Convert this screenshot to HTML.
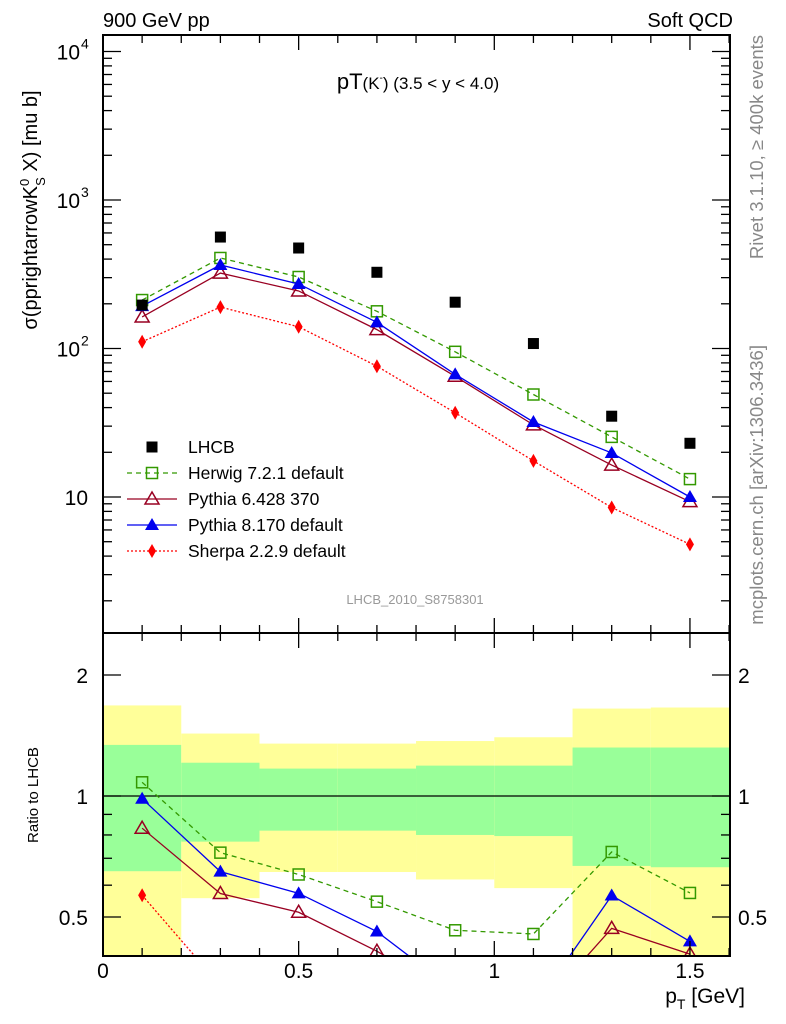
<!DOCTYPE html>
<html><head><meta charset="utf-8"><style>
html,body{margin:0;background:#fff;overflow:hidden;width:786px;height:1024px;}
svg{font-family:"Liberation Sans",sans-serif;display:block;}
</style></head><body>
<svg id="c" width="786" height="1024" xmlns="http://www.w3.org/2000/svg"></svg>
<script>
const xs=[0.1,0.3,0.5,0.7,0.9,1.1,1.3,1.5];
const lhcb=[196,563,475,326,205,108,35,23];
const herwig=[212,407,303,178,95,49,25.4,13.2];
const pythia6=[163,322,244,134,65,30.6,16.4,9.3];
const pythia8=[193,365,272,150,67,32,19.8,10];
const sherpa=[111,190,140,76,36.9,17.5,8.5,4.8];
const binEdges=[0,0.2,0.4,0.6,0.8,1.0,1.2,1.4,1.6];
const yellowHi=[1.68,1.43,1.35,1.35,1.37,1.40,1.65,1.66];
const greenHi=[1.34,1.21,1.17,1.17,1.19,1.19,1.32,1.32];
const greenLo=[0.65,0.77,0.82,0.82,0.80,0.795,0.67,0.665];
const yellowLo=[0.3,0.557,0.647,0.647,0.62,0.59,0.3,0.3];
const xTicks=[0,0.5,1,1.5];
const xTickLabels=["0","0.5","1","1.5"];

const NS="http://www.w3.org/2000/svg";
const svg=document.getElementById('c');
const L=103,R=730,T1=35,B1=633,B2=956;
const X=v=>L+v*391.3;
const Y=v=>497-148.5*(Math.log10(v)-1);
const YR=r=>796-402*Math.log10(r);
function el(tag,attrs,parent){const e=document.createElementNS(NS,tag);for(const k in attrs)e.setAttribute(k,attrs[k]);(parent||svg).appendChild(e);return e;}
function txt(s,x,y,attrs,parent){const t=el('text',Object.assign({x:x,y:y},attrs),parent);t.textContent=s;return t;}

const defs=el('defs',{});
const c1=el('clipPath',{id:'cp1'},defs);el('rect',{x:L,y:T1,width:R-L,height:B1-T1},c1);
const c2=el('clipPath',{id:'cp2'},defs);el('rect',{x:L,y:B1,width:R-L,height:B2-B1},c2);

const bands=el('g',{'clip-path':'url(#cp2)'});


for(let i=0;i<yellowHi.length;i++){
  const x0=X(binEdges[i]),x1=X(binEdges[i+1]);
  const y=el('rect',{x:x0,y:YR(yellowHi[i]),width:x1-x0,height:YR(yellowLo[i])-YR(yellowHi[i]),fill:'#ffff99'},bands);
  
  
  const g=el('rect',{x:x0,y:YR(greenHi[i]),width:x1-x0,height:YR(greenLo[i])-YR(greenHi[i]),fill:'#99ff99'},bands);
  
  
}
el('line',{x1:L,x2:R,y1:YR(1),y2:YR(1),stroke:'#000','stroke-width':1.3},bands);

const series=[
 {name:'herwig',vals:herwig,color:'#339900',dash:'5,4',marker:'osq'},
 {name:'pythia6',vals:pythia6,color:'#990022',dash:'',marker:'otri'},
 {name:'pythia8',vals:pythia8,color:'#0000ee',dash:'',marker:'ftri'},
 {name:'sherpa',vals:sherpa,color:'#ff0000',dash:'2,2',marker:'dia'}];

function marker(type,x,y,color,g){
  if(type==='osq')return el('rect',{x:x-5.5,y:y-5.5,width:11,height:11,fill:'none',stroke:color,'stroke-width':1.5},g);
  if(type==='otri')return el('polygon',{points:`${x},${y-7} ${x-7},${y+5} ${x+7},${y+5}`,fill:'none',stroke:color,'stroke-width':1.5},g);
  if(type==='ftri')return el('polygon',{points:`${x},${y-7} ${x-7},${y+5} ${x+7},${y+5}`,fill:color},g);
  if(type==='dia')return el('polygon',{points:`${x},${y-7} ${x-4},${y} ${x},${y+7} ${x+4},${y}`,fill:color},g);
  if(type==='sq')return el('rect',{x:x-5.5,y:y-5.5,width:11,height:11,fill:color},g);
}

const mg=el('g',{'clip-path':'url(#cp1)'});


for(const s of series){
  const g=el('g',{},mg);
  
  
  const pts=xs.map((x,i)=>X(x)+','+Y(s.vals[i])).join(' ');
  el('polyline',{points:pts,fill:'none',stroke:s.color,'stroke-width':1.3,'stroke-dasharray':s.dash},g);
  xs.forEach((x,i)=>{const m=marker(s.marker,X(x),Y(s.vals[i]),s.color,g);
    
    });
}
const lg=el('g',{},mg);


xs.forEach((x,i)=>{const m=marker('sq',X(x),Y(lhcb[i]),'#000',lg);
  
  });

const rg=el('g',{'clip-path':'url(#cp2)'});


for(const s of series){
  const g=el('g',{},rg);
  
  
  const pts=xs.map((x,i)=>X(x)+','+YR(s.vals[i]/lhcb[i])).join(' ');
  el('polyline',{points:pts,fill:'none',stroke:s.color,'stroke-width':1.3,'stroke-dasharray':s.dash},g);
  xs.forEach((x,i)=>{const m=marker(s.marker,X(x),YR(s.vals[i]/lhcb[i]),s.color,g);
    
    });
}

function frame(top,bot){
  el('rect',{x:L,y:top,width:R-L,height:bot-top,fill:'none',stroke:'#000','stroke-width':2});
  for(let v=0;v<=1.6001;v+=0.1){
    const major=Math.abs(v*2-Math.round(v*2))<1e-6;
    const len=major?15:8;const x=X(v);
    el('line',{x1:x,x2:x,y1:bot,y2:bot-len,stroke:'#000','stroke-width':1.3});
    el('line',{x1:x,x2:x,y1:top,y2:top+len,stroke:'#000','stroke-width':1.3});
  }
}
frame(T1,B1);frame(B1,B2);
for(let d=0;d<=4;d++){for(let m=1;m<=9;m++){const v=m*Math.pow(10,d);const y=Y(v);if(y<T1||y>B1)continue;
  const len=m===1?18:9;
  el('line',{x1:L,x2:L+len,y1:y,y2:y,stroke:'#000','stroke-width':1.3});
  el('line',{x1:R,x2:R-len,y1:y,y2:y,stroke:'#000','stroke-width':1.3});}}
const yl=[[10,'10'],[100,'10','2'],[1000,'10','3'],[10000,'10','4']];
for(const l of yl){const t=txt(l[1],l[0]===10?88:80,Y(l[0])+8,{'font-size':21,'text-anchor':'end'});
  
  if(l[2]){txt(l[2],81,Y(l[0])-3,{'font-size':14});}}
for(let d=-1;d<=0;d++){for(let m=1;m<=9;m++){const v=m*Math.pow(10,d);const y=YR(v);if(y<B1||y>B2)continue;
  const len=(v===1||v===2||v===0.5)?18:9;
  el('line',{x1:L,x2:L+len,y1:y,y2:y,stroke:'#000','stroke-width':1.3});
  el('line',{x1:R,x2:R-len,y1:y,y2:y,stroke:'#000','stroke-width':1.3});}}
for(const [v,s] of [[2,'2'],[1,'1'],[0.5,'0.5']]){
  txt(s,88,YR(v)+8,{'font-size':21,'text-anchor':'end'});
  txt(s,738,YR(v)+8,{'font-size':21});}
xTicks.forEach((v,i)=>{const t=txt(xTickLabels[i],X(v),978,{'font-size':21,'text-anchor':'middle'});
  });

let t=txt('900 GeV pp',103,27,{'font-size':20});
t=txt('Soft QCD',733,27,{'font-size':20,'text-anchor':'end'});
t=el('text',{x:418,y:89,'font-size':22,'text-anchor':'middle'});t.innerHTML='pT<tspan font-size="17">(K</tspan><tspan font-size="10" dy="-8">-</tspan><tspan font-size="17" dy="8">)</tspan><tspan font-size="17"> (3.5 &lt; y &lt; 4.0)</tspan>';

t=el('text',{x:0,y:0,'font-size':20,'text-anchor':'middle',transform:'translate(37,210) rotate(-90)'});
t.innerHTML='σ(pprightarrowK<tspan font-size="13" dy="-8">0</tspan><tspan font-size="13" dy="16" dx="-7">S</tspan><tspan dy="-8"> X) [mu b]</tspan>';

t=txt('Ratio to LHCB',0,0,{'font-size':15,'text-anchor':'middle',transform:'translate(38,795) rotate(-90)'});

t=el('text',{x:745,y:1003,'font-size':21,'text-anchor':'end'});t.innerHTML='p<tspan font-size="14" dy="6">T</tspan><tspan dy="-6"> [GeV]</tspan>';

t=txt('LHCB_2010_S8758301',415,604,{'font-size':13,'text-anchor':'middle',fill:'#999'});

t=txt('Rivet 3.1.10, ≥ 400k events',0,0,{'font-size':18.5,'text-anchor':'end',fill:'#888',transform:'translate(763,35) rotate(-90)'});

t=txt('mcplots.cern.ch [arXiv:1306.3436]',0,0,{'font-size':18.5,'text-anchor':'end',fill:'#888',transform:'translate(763,345) rotate(-90)'});


const leg=el('g',{});


const entries=[['LHCB',null],['Herwig 7.2.1 default',series[0]],['Pythia 6.428 370',series[1]],['Pythia 8.170 default',series[2]],['Sherpa 2.2.9 default',series[3]]];
entries.forEach((e,i)=>{const y=447+i*26;const g=el('g',{},leg);
  
  
  if(!e[1]){marker('sq',152,y,'#000',g);}
  else{el('line',{x1:127,x2:177,y1:y,y2:y,stroke:e[1].color,'stroke-width':1.3,'stroke-dasharray':e[1].dash},g);marker(e[1].marker,152,y,e[1].color,g);}
  txt(e[0],188,y+6,{'font-size':17.5},g);});
</script>
</body></html>
